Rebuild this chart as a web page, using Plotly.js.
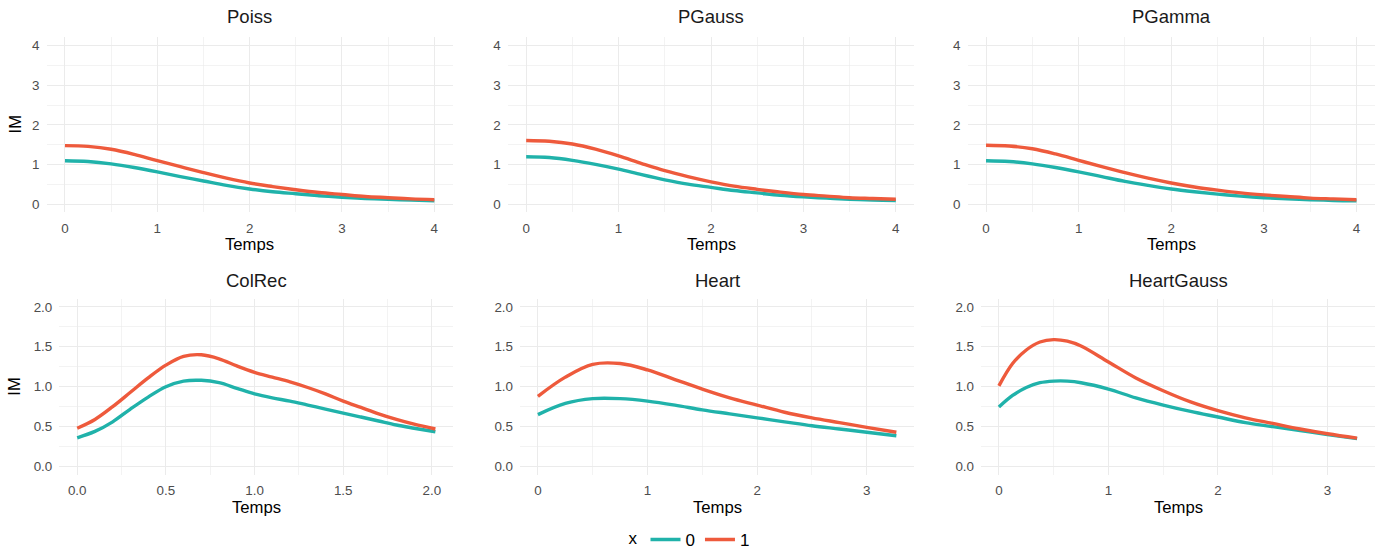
<!DOCTYPE html>
<html>
<head>
<meta charset="utf-8">
<script src="https://cdn.plot.ly/plotly-3.0.1.min.js"></script>
<style>
  html, body { margin: 0; padding: 0; background: #ffffff; }
  #chart { width: 1381px; height: 553px; }
</style>
</head>
<body>
<div id="chart"></div>
<script>
// Facet names, in display order
const facetNames = ["Poiss", "PGauss", "PGamma", "ColRec", "Heart", "HeartGauss"];
const groupLabels = ["0", "1"];

// Top row: time grid shared by Poiss, PGauss, PGamma
const topTime = [0, 0.25, 0.5, 0.75, 1, 1.25, 1.5, 1.75, 2, 2.25, 2.5, 2.75, 3, 3.25, 3.5, 3.75, 4];

const poissX0 = [1.10, 1.08, 1.02, 0.93, 0.82, 0.70, 0.59, 0.48, 0.39, 0.32, 0.27, 0.22, 0.18, 0.15, 0.13, 0.11, 0.09];
const poissX1 = [1.48, 1.46, 1.39, 1.26, 1.10, 0.95, 0.80, 0.66, 0.54, 0.45, 0.37, 0.30, 0.25, 0.20, 0.17, 0.14, 0.12];

const pgaussX0 = [1.20, 1.18, 1.11, 1.01, 0.89, 0.75, 0.62, 0.51, 0.43, 0.35, 0.29, 0.23, 0.19, 0.16, 0.13, 0.11, 0.10];
const pgaussX1 = [1.61, 1.59, 1.52, 1.39, 1.22, 1.03, 0.85, 0.70, 0.57, 0.46, 0.38, 0.31, 0.25, 0.21, 0.17, 0.15, 0.13];

const pgammaX0 = [1.10, 1.08, 1.02, 0.93, 0.82, 0.70, 0.58, 0.48, 0.39, 0.32, 0.26, 0.21, 0.17, 0.14, 0.12, 0.10, 0.09];
const pgammaX1 = [1.49, 1.47, 1.40, 1.27, 1.11, 0.95, 0.80, 0.66, 0.54, 0.44, 0.36, 0.29, 0.24, 0.20, 0.16, 0.14, 0.12];

// ColRec
const colRecTime = [0, 0.1, 0.2, 0.3, 0.4, 0.5, 0.6, 0.7, 0.8, 0.9, 1.0, 1.1, 1.2, 1.3, 1.4, 1.5, 1.6, 1.7, 1.8, 1.9, 2.02];
const colRecX0 = [0.36, 0.44, 0.56, 0.72, 0.87, 1.00, 1.07, 1.08, 1.05, 0.98, 0.91, 0.86, 0.82, 0.77, 0.72, 0.67, 0.62, 0.57, 0.52, 0.48, 0.435];
const colRecX1 = [0.48, 0.59, 0.75, 0.93, 1.11, 1.27, 1.38, 1.40, 1.35, 1.26, 1.18, 1.12, 1.06, 0.99, 0.91, 0.82, 0.74, 0.66, 0.59, 0.53, 0.47];

// Heart
const heartTime = [0, 0.25, 0.5, 0.75, 1, 1.25, 1.5, 1.75, 2, 2.25, 2.5, 2.75, 3, 3.27];
const heartX0 = [0.65, 0.79, 0.85, 0.85, 0.82, 0.77, 0.71, 0.66, 0.61, 0.56, 0.51, 0.47, 0.43, 0.385];
const heartX1 = [0.88, 1.12, 1.28, 1.29, 1.21, 1.09, 0.97, 0.86, 0.77, 0.68, 0.61, 0.55, 0.49, 0.43];

// HeartGauss
const heartGaussTime = [0, 0.125, 0.25, 0.375, 0.5, 0.625, 0.75, 1, 1.25, 1.5, 1.75, 2, 2.25, 2.5, 2.75, 3, 3.27];
const heartGaussX0 = [0.745, 0.89, 0.99, 1.05, 1.07, 1.07, 1.05, 0.97, 0.86, 0.77, 0.69, 0.62, 0.55, 0.50, 0.45, 0.40, 0.35];
const heartGaussX1 = [1.01, 1.29, 1.46, 1.56, 1.59, 1.57, 1.51, 1.31, 1.11, 0.95, 0.81, 0.70, 0.61, 0.54, 0.47, 0.41, 0.355];

const W = 1381, H = 553;
const colors = { "0": "#20B2AA", "1": "#EE5A3C" };
const FONT = "Liberation Sans, Arial, Helvetica, sans-serif";

// panel boxes in pixels: [left, right, top, bottom]
const panels = [
  { time: topTime, s0: poissX0, s1: poissX1, box: [46.5, 452.8, 36.7, 212.4], xr: [-0.2, 4.2], yr: [-0.2, 4.22], xd: 1, xm: 0.5, yd: 1, ym: 0.5, fmt: "", yfmt: "" },
  { time: topTime, s0: pgaussX0, s1: pgaussX1, box: [507.7, 914.3, 36.7, 212.4], xr: [-0.2, 4.2], yr: [-0.2, 4.22], xd: 1, xm: 0.5, yd: 1, ym: 0.5, fmt: "", yfmt: "" },
  { time: topTime, s0: pgammaX0, s1: pgammaX1, box: [967.5, 1375, 36.7, 212.4], xr: [-0.2, 4.2], yr: [-0.2, 4.22], xd: 1, xm: 0.5, yd: 1, ym: 0.5, fmt: "", yfmt: "" },
  { time: colRecTime, s0: colRecX0, s1: colRecX1, box: [59.3, 453.3, 298.9, 474.5], xr: [-0.101, 2.121], yr: [-0.1, 2.1], xd: 0.5, xm: 0.25, yd: 0.5, ym: 0.25, fmt: ".1f", yfmt: ".1f" },
  { time: heartTime, s0: heartX0, s1: heartX1, box: [520, 914.3, 298.9, 474.5], xr: [-0.1635, 3.4335], yr: [-0.1, 2.1], xd: 1, xm: 0.5, yd: 0.5, ym: 0.25, fmt: "", yfmt: ".1f" },
  { time: heartGaussTime, s0: heartGaussX0, s1: heartGaussX1, box: [981, 1375, 298.9, 474.5], xr: [-0.1635, 3.4335], yr: [-0.1, 2.1], xd: 1, xm: 0.5, yd: 0.5, ym: 0.25, fmt: "", yfmt: ".1f" }
];

const traces = [];
const layout = {
  width: W, height: H,
  // fixed margins: the legend must not push the panels around
  margin: { l: 0, r: 0, t: 0, b: 0, autoexpand: false },
  paper_bgcolor: "#ffffff",
  plot_bgcolor: "#ffffff",
  font: { family: FONT, color: "#4D4D4D" },
  showlegend: true,
  legend: {
    orientation: "h",
    x: 0.5, xanchor: "center",
    y: 1 - 540 / H, yanchor: "middle",
    title: { text: "x", font: { size: 17, color: "#000000" }, side: "left" },
    font: { size: 17, color: "#000000" },
    itemwidth: 30,
    tracegroupgap: 0
  },
  annotations: []
};

const gridColor = "#EBEBEB";

panels.forEach((p, i) => {
  const n = i + 1;
  const xa = n === 1 ? "x" : "x" + n;
  const ya = n === 1 ? "y" : "y" + n;
  const [l, r, t, b] = p.box;

  groupLabels.forEach((g, gi) => {
    traces.push({
      type: "scatter",
      mode: "lines",
      x: p.time,
      y: gi === 0 ? p.s0 : p.s1,
      xaxis: xa, yaxis: ya,
      name: g,
      legendgroup: g,
      showlegend: i === 0,
      line: { color: colors[g], width: 3.4, shape: "spline", smoothing: 1 },
      hoverinfo: "skip"
    });
  });

  const common = {
    showline: false, zeroline: false, ticks: "", ticklen: 0,
    showgrid: true, gridcolor: gridColor, gridwidth: 1,
    tickfont: { size: 13.4, color: "#4D4D4D", family: FONT },
    fixedrange: true
  };
  layout["xaxis" + (n === 1 ? "" : n)] = Object.assign({}, common, {
    domain: [l / W, r / W],
    anchor: ya,
    range: p.xr,
    tick0: 0, dtick: p.xd,
    tickformat: p.fmt,
    ticklabelstandoff: 6,
    minor: { tick0: 0, dtick: p.xm, showgrid: true, gridcolor: gridColor, gridwidth: 0.6, ticks: "" }
  });
  layout["yaxis" + (n === 1 ? "" : n)] = Object.assign({}, common, {
    domain: [1 - b / H, 1 - t / H],
    anchor: xa,
    range: p.yr,
    tick0: 0, dtick: p.yd,
    tickformat: p.yfmt,
    ticklabelstandoff: 6,
    minor: { tick0: 0, dtick: p.ym, showgrid: true, gridcolor: gridColor, gridwidth: 0.6, ticks: "" }
  });

  const cx = ((l + r) / 2) / W;
  const topRow = i < 3;
  // facet strip title
  layout.annotations.push({
    text: facetNames[i], xref: "paper", yref: "paper",
    x: cx, y: 1 - (topRow ? 16.5 : 280) / H,
    xanchor: "center", yanchor: "middle", showarrow: false,
    font: { size: 18.5, color: "#1A1A1A", family: FONT }
  });
  // x axis title
  layout.annotations.push({
    text: "Temps", xref: "paper", yref: "paper",
    x: cx, y: 1 - (topRow ? 245 : 507) / H,
    xanchor: "center", yanchor: "middle", showarrow: false,
    font: { size: 16.7, color: "#000000", family: FONT }
  });
});

// y axis titles, one per row
[124.5, 386.7].forEach(cy => {
  layout.annotations.push({
    text: "IM", xref: "paper", yref: "paper",
    x: 15 / W, y: 1 - cy / H,
    xanchor: "center", yanchor: "middle", showarrow: false, textangle: -90,
    font: { size: 16.7, color: "#000000", family: FONT }
  });
});

Plotly.newPlot("chart", traces, layout, { staticPlot: true, displayModeBar: false });
</script>
</body>
</html>
